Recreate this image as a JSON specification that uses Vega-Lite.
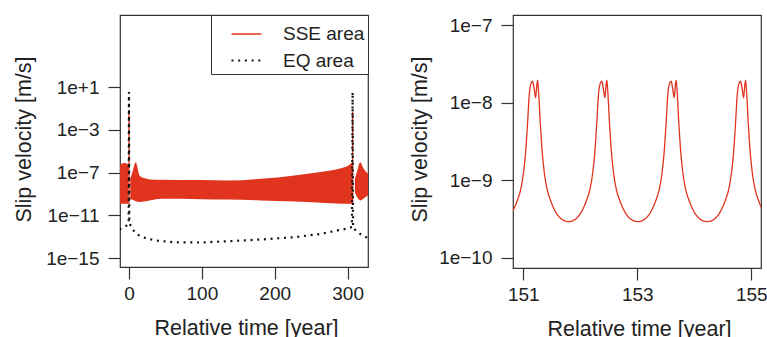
{
"$schema": "https://vega.github.io/schema/vega-lite/v6.json",
"autosize": {"type": "pad"},
"padding": {"left": 12, "top": 13, "right": 0, "bottom": 0},
"background": "white",
"bounds": "flush",
"spacing": 145,
"resolve": {"legend": {"color": "independent", "strokeDash": "independent", "strokeWidth": "independent"}, "scale": {"x": "independent", "y": "independent", "color": "independent", "strokeDash": "independent", "strokeWidth": "independent"}},
"datasets": {
"band": [
{"t": -13, "top": 4.57e-7, "bot": 1.175e-10, "seg": "A"},
{"t": -6.9, "top": 7.59e-7, "bot": 1.175e-10, "seg": "A"},
{"t": -1.4, "top": 6.17e-7, "bot": 1.175e-10, "seg": "A"},
{"t": -0.6, "top": 3.16e-7, "bot": 1.26e-10, "seg": "A"},
{"t": 1.8, "top": 2.57e-8, "bot": 3.16e-10, "seg": "B"},
{"t": 5, "top": 1.26e-7, "bot": 2.82e-10, "seg": "B"},
{"t": 9.2, "top": 9.33e-7, "bot": 2.09e-10, "seg": "B"},
{"t": 14.6, "top": 5.37e-8, "bot": 1.78e-10, "seg": "B"},
{"t": 20.6, "top": 3.02e-8, "bot": 1.91e-10, "seg": "B"},
{"t": 30, "top": 2.24e-8, "bot": 2.57e-10, "seg": "B"},
{"t": 44, "top": 2.09e-8, "bot": 3.47e-10, "seg": "B"},
{"t": 99, "top": 1.95e-8, "bot": 3.24e-10, "seg": "B"},
{"t": 135, "top": 1.82e-8, "bot": 3.02e-10, "seg": "B"},
{"t": 181, "top": 2.57e-8, "bot": 2.45e-10, "seg": "B"},
{"t": 227, "top": 5.37e-8, "bot": 1.95e-10, "seg": "B"},
{"t": 263, "top": 1.1e-7, "bot": 1.51e-10, "seg": "B"},
{"t": 291, "top": 2.57e-7, "bot": 1.23e-10, "seg": "B"},
{"t": 300, "top": 3.98e-7, "bot": 1.2e-10, "seg": "B"},
{"t": 306.3, "top": 9.33e-7, "bot": 1.175e-10, "seg": "B"},
{"t": 310, "top": 2.57e-8, "bot": 1.45e-9, "seg": "C"},
{"t": 313, "top": 1.26e-7, "bot": 5.01e-10, "seg": "C"},
{"t": 317.3, "top": 9.33e-7, "bot": 2.45e-10, "seg": "C"},
{"t": 322.4, "top": 2.09e-7, "bot": 3.98e-10, "seg": "C"},
{"t": 328, "top": 7.59e-8, "bot": 7.08e-10, "seg": "C"},
{"t": 330, "top": 6.31e-8, "bot": 7.94e-10, "seg": "C"}
],
"lines": [
{"t": 0, "v": 1.2e-10, "series": "SSE area", "seg": "s1"},
{"t": 0, "v": 5.0e-2, "series": "SSE area", "seg": "s1"},
{"t": 306.9, "v": 1.2e-10, "series": "SSE area", "seg": "s2"},
{"t": 306.9, "v": 5.0e-2, "series": "SSE area", "seg": "s2"},
{"t": -13, "v": 5.01e-13, "series": "EQ area", "seg": "e"},
{"t": -6, "v": 7.94e-13, "series": "EQ area", "seg": "e"},
{"t": -0.4, "v": 1.58e-12, "series": "EQ area", "seg": "e"},
{"t": 0, "v": 3.39, "series": "EQ area", "seg": "e"},
{"t": 0.5, "v": 2.0e-12, "series": "EQ area", "seg": "e"},
{"t": 4.5, "v": 5.37e-13, "series": "EQ area", "seg": "e"},
{"t": 10, "v": 1.82e-13, "series": "EQ area", "seg": "e"},
{"t": 16.9, "v": 1.02e-13, "series": "EQ area", "seg": "e"},
{"t": 23.7, "v": 7.08e-14, "series": "EQ area", "seg": "e"},
{"t": 32.9, "v": 5.01e-14, "series": "EQ area", "seg": "e"},
{"t": 42.1, "v": 3.98e-14, "series": "EQ area", "seg": "e"},
{"t": 51.2, "v": 3.55e-14, "series": "EQ area", "seg": "e"},
{"t": 60.4, "v": 3.02e-14, "series": "EQ area", "seg": "e"},
{"t": 80, "v": 2.88e-14, "series": "EQ area", "seg": "e"},
{"t": 98.8, "v": 2.82e-14, "series": "EQ area", "seg": "e"},
{"t": 135.4, "v": 3.72e-14, "series": "EQ area", "seg": "e"},
{"t": 181, "v": 5.37e-14, "series": "EQ area", "seg": "e"},
{"t": 226.7, "v": 8.91e-14, "series": "EQ area", "seg": "e"},
{"t": 263.4, "v": 1.82e-13, "series": "EQ area", "seg": "e"},
{"t": 286.3, "v": 3.8e-13, "series": "EQ area", "seg": "e"},
{"t": 297.7, "v": 5.37e-13, "series": "EQ area", "seg": "e"},
{"t": 306, "v": 7.94e-13, "series": "EQ area", "seg": "e"},
{"t": 306.9, "v": 3.39, "series": "EQ area", "seg": "e"},
{"t": 307.5, "v": 6.31e-13, "series": "EQ area", "seg": "e"},
{"t": 318.8, "v": 1.45e-13, "series": "EQ area", "seg": "e"},
{"t": 325.7, "v": 8.91e-14, "series": "EQ area", "seg": "e"},
{"t": 330, "v": 7.08e-14, "series": "EQ area", "seg": "e"}
],
"right": [
{"t": 150.663, "v": 3.03e-10}, {"t": 150.768, "v": 3.52e-10}, {"t": 150.838, "v": 4.33e-10}, {"t": 150.899, "v": 5.56e-10}, {"t": 150.955, "v": 7.59e-10}, {"t": 151.007, "v": 1.29e-9}, {"t": 151.047, "v": 2.58e-9}, {"t": 151.077, "v": 5.69e-9}, {"t": 151.105, "v": 1.26e-8}, {"t": 151.135, "v": 1.76e-8}, {"t": 151.164, "v": 1.89e-8}, {"t": 151.19, "v": 1.53e-8}, {"t": 151.217, "v": 1.16e-8}, {"t": 151.239, "v": 1.71e-8}, {"t": 151.252, "v": 1.95e-8}, {"t": 151.269, "v": 1.39e-8}, {"t": 151.297, "v": 5.69e-9}, {"t": 151.327, "v": 2.58e-9}, {"t": 151.367, "v": 1.29e-9}, {"t": 151.419, "v": 7.59e-10}, {"t": 151.475, "v": 5.56e-10}, {"t": 151.536, "v": 4.33e-10}, {"t": 151.606, "v": 3.52e-10}, {"t": 151.711, "v": 3.03e-10}, {"t": 151.794, "v": 2.94e-10},
{"t": 151.877, "v": 3.03e-10}, {"t": 151.982, "v": 3.52e-10}, {"t": 152.052, "v": 4.33e-10}, {"t": 152.113, "v": 5.56e-10}, {"t": 152.169, "v": 7.59e-10}, {"t": 152.221, "v": 1.29e-9}, {"t": 152.261, "v": 2.58e-9}, {"t": 152.291, "v": 5.69e-9}, {"t": 152.319, "v": 1.26e-8}, {"t": 152.349, "v": 1.76e-8}, {"t": 152.378, "v": 1.89e-8}, {"t": 152.404, "v": 1.53e-8}, {"t": 152.431, "v": 1.16e-8}, {"t": 152.453, "v": 1.71e-8}, {"t": 152.466, "v": 1.95e-8}, {"t": 152.483, "v": 1.39e-8}, {"t": 152.511, "v": 5.69e-9}, {"t": 152.541, "v": 2.58e-9}, {"t": 152.581, "v": 1.29e-9}, {"t": 152.633, "v": 7.59e-10}, {"t": 152.689, "v": 5.56e-10}, {"t": 152.75, "v": 4.33e-10}, {"t": 152.82, "v": 3.52e-10}, {"t": 152.925, "v": 3.03e-10}, {"t": 153.009, "v": 2.94e-10},
{"t": 153.093, "v": 3.03e-10}, {"t": 153.198, "v": 3.52e-10}, {"t": 153.268, "v": 4.33e-10}, {"t": 153.329, "v": 5.56e-10}, {"t": 153.385, "v": 7.59e-10}, {"t": 153.437, "v": 1.29e-9}, {"t": 153.477, "v": 2.58e-9}, {"t": 153.507, "v": 5.69e-9}, {"t": 153.535, "v": 1.26e-8}, {"t": 153.565, "v": 1.76e-8}, {"t": 153.594, "v": 1.89e-8}, {"t": 153.62, "v": 1.53e-8}, {"t": 153.647, "v": 1.16e-8}, {"t": 153.669, "v": 1.71e-8}, {"t": 153.682, "v": 1.95e-8}, {"t": 153.699, "v": 1.39e-8}, {"t": 153.727, "v": 5.69e-9}, {"t": 153.757, "v": 2.58e-9}, {"t": 153.797, "v": 1.29e-9}, {"t": 153.849, "v": 7.59e-10}, {"t": 153.905, "v": 5.56e-10}, {"t": 153.966, "v": 4.33e-10}, {"t": 154.036, "v": 3.52e-10}, {"t": 154.141, "v": 3.03e-10}, {"t": 154.226, "v": 2.94e-10},
{"t": 154.311, "v": 3.03e-10}, {"t": 154.416, "v": 3.52e-10}, {"t": 154.486, "v": 4.33e-10}, {"t": 154.547, "v": 5.56e-10}, {"t": 154.603, "v": 7.59e-10}, {"t": 154.655, "v": 1.29e-9}, {"t": 154.695, "v": 2.58e-9}, {"t": 154.725, "v": 5.69e-9}, {"t": 154.753, "v": 1.26e-8}, {"t": 154.783, "v": 1.76e-8}, {"t": 154.812, "v": 1.89e-8}, {"t": 154.838, "v": 1.53e-8}, {"t": 154.865, "v": 1.16e-8}, {"t": 154.887, "v": 1.71e-8}, {"t": 154.9, "v": 1.95e-8}, {"t": 154.917, "v": 1.39e-8}, {"t": 154.945, "v": 5.69e-9}, {"t": 154.975, "v": 2.58e-9}, {"t": 155.015, "v": 1.29e-9}, {"t": 155.067, "v": 7.59e-10}, {"t": 155.123, "v": 5.56e-10}, {"t": 155.184, "v": 4.33e-10}, {"t": 155.254, "v": 3.52e-10}
]
},
"hconcat": [
{
"width": 248,
"height": 252,
"layer": [
{
"data": {"name": "band"},
"mark": {"type": "area", "color": "#e1341e", "interpolate": "monotone", "clip": true, "opacity": 1},
"encoding": {
"x": {"field": "t", "type": "quantitative", "scale": {"domain": [-12.3, 328], "nice": false, "zero": false},
"axis": {"values": [0, 100, 200, 300], "title": "Relative time [year]", "titleX": 126, "titleY": 50, "titleBaseline": "top"}},
"y": {"field": "top", "type": "quantitative", "scale": {"type": "log", "domain": [1.445e-16, 5.5e7], "nice": false},
"axis": {"values": [1e-15, 1e-11, 1e-7, 0.001, 10], "title": "Slip velocity [m/s]", "titleX": -90, "titleY": 124, "titleBaseline": "alphabetic", "titleAngle": -90,
"labelExpr": "'1e' + (round(log(datum.value)/LN10) >= 0 ? '+' : '\u2212') + abs(round(log(datum.value)/LN10))"}},
"y2": {"field": "bot"},
"detail": {"field": "seg"}
}
},
{
"data": {"name": "lines"},
"mark": {"type": "line", "strokeCap": "butt", "clip": true},
"encoding": {
"x": {"field": "t", "type": "quantitative"},
"y": {"field": "v", "type": "quantitative"},
"color": {"field": "series", "type": "nominal", "scale": {"domain": ["SSE area", "EQ area"], "range": ["#e1341e", "#111111"]}, "legend": {"title": null, "orient": "top-right", "offset": 0}},
"strokeDash": {"field": "series", "type": "nominal", "scale": {"domain": ["SSE area", "EQ area"], "range": [[1, 0], [2, 4.7]]}, "legend": {"title": null, "orient": "top-right", "offset": 0}},
"strokeWidth": {"field": "series", "type": "nominal", "scale": {"domain": ["SSE area", "EQ area"], "range": [1.3, 2.2]}, "legend": {"title": null, "orient": "top-right", "offset": 0}},
"detail": {"field": "seg"}
}
}
]
},
{
"width": 248,
"height": 253,
"data": {"name": "right"},
"mark": {"type": "line", "color": "#e1341e", "strokeWidth": 1.3, "interpolate": "monotone", "clip": true},
"encoding": {
"x": {"field": "t", "type": "quantitative", "scale": {"domain": [150.82, 155.17], "nice": false, "zero": false},
"axis": {"values": [151, 153, 155], "title": "Relative time [year]", "titleX": 126, "titleY": 50, "titleBaseline": "top"}},
"y": {"field": "v", "type": "quantitative", "scale": {"type": "log", "domain": [7.41e-11, 1.349e-7], "nice": false},
"axis": {"values": [1e-10, 1e-9, 1e-8, 1e-7], "title": "Slip velocity [m/s]", "titleX": -87, "titleY": 124, "titleBaseline": "alphabetic", "titleAngle": -90,
"labelExpr": "'1e' + (round(log(datum.value)/LN10) >= 0 ? '+' : '\u2212') + abs(round(log(datum.value)/LN10))"}}
}
}
],
"config": {
"view": {"stroke": "#333333", "strokeWidth": 1.2},
"font": "Liberation Sans",
"axis": {"domain": false, "grid": false, "tickSize": 12, "tickColor": "#333333", "tickWidth": 1.2,
"labelFont": "Liberation Sans", "labelFontSize": 19, "labelColor": "#222222", "labelPadding": 8,
"titleFont": "Liberation Sans", "titleFontSize": 21.5, "titleFontWeight": "normal", "titleColor": "#222222", "titleAlign": "center"},
"axisX": {"labelPadding": 5},
"axisY": {"labelPadding": 9},
"legend": {"orient": "top-right", "offset": 0, "padding": 3, "strokeColor": "#333333", "fillColor": "white",
"labelFont": "Liberation Sans", "labelFontSize": 19, "labelColor": "#222222", "labelOffset": 20,
"symbolType": "stroke", "symbolSize": 900, "symbolOffset": 16, "rowPadding": -7, "labelLimit": 300}
}
}
